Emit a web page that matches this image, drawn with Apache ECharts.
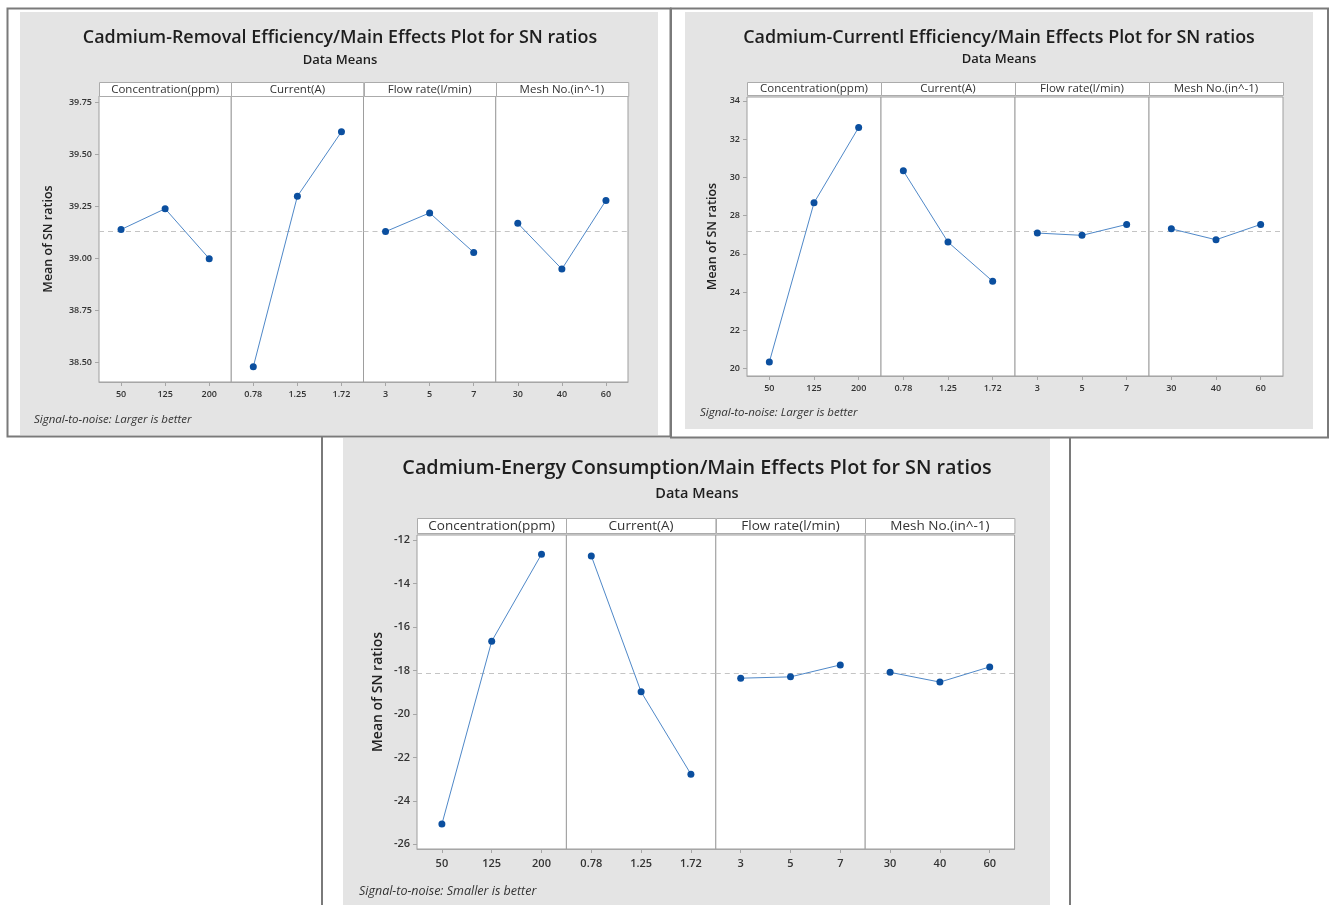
<!DOCTYPE html>
<html><head><meta charset="utf-8">
<script src="https://cdn.jsdelivr.net/npm/echarts@6/dist/echarts.min.js"></script>
<style>html,body{margin:0;padding:0;background:#fff}#c{width:1332px;height:905px}</style>
</head><body><div id="c"></div>
<script>
// ---------- DATA ----------
const factorNames = ['Concentration(ppm)', 'Current(A)', 'Flow rate(l/min)', 'Mesh No.(in^-1)'];
const concLevels = ['50', '125', '200'];
const currentLevels = ['0.78', '1.25', '1.72'];
const flowLevels = ['3', '5', '7'];
const meshLevels = ['30', '40', '60'];

// Cadmium-Removal Efficiency
const removalConc = [39.14, 39.24, 39.00];
const removalCurrent = [38.48, 39.30, 39.61];
const removalFlow = [39.13, 39.22, 39.03];
const removalMesh = [39.17, 38.95, 39.28];
const removalTicks = [38.50, 38.75, 39.00, 39.25, 39.50, 39.75];

// Cadmium-Current Efficiency
const currEffConc = [20.35, 28.67, 32.61];
const currEffCurrent = [30.34, 26.62, 24.57];
const currEffFlow = [27.09, 26.97, 27.54];
const currEffMesh = [27.31, 26.74, 27.54];
const currEffTicks = [20, 22, 24, 26, 28, 30, 32, 34];

// Cadmium-Energy Consumption
const energyConc = [-25.07, -16.65, -12.64];
const energyCurrent = [-12.72, -18.98, -22.77];
const energyFlow = [-18.35, -18.29, -17.74];
const energyMesh = [-18.08, -18.53, -17.83];
const energyTicks = [-26, -24, -22, -20, -18, -16, -14, -12];

const levelSets = [concLevels, currentLevels, flowLevels, meshLevels];

// ---------- LAYOUT ----------
const FONT = "'Open Sans', 'Noto Sans', sans-serif";
const charts = [
  {
    title: 'Cadmium-Removal Efficiency/Main Effects Plot for SN ratios',
    sub: 'Data Means', note: 'Signal-to-noise: Larger is better', yName: 'Mean of SN ratios',
    values: [removalConc, removalCurrent, removalFlow, removalMesh], ticks: removalTicks, dec: 2,
    L: { left: 99, pw: 132.25, top: 96, bottom: 382, hTop: 82, hBot: 96, yMin: 38.407, yMax: 39.782,
      tx: 340, ty: 38, tSize: 17.9, sy: 60, sSize: 13, hSize: 11.5, lSize: 9, nameSize: 12.5, nameGap: 44,
      fx: 34, fy: 420, fSize: 11.5, lblMargin: 8 }
  },
  {
    title: 'Cadmium-Currentl Efficiency/Main Effects Plot for SN ratios',
    sub: 'Data Means', note: 'Signal-to-noise: Larger is better', yName: 'Mean of SN ratios',
    values: [currEffConc, currEffCurrent, currEffFlow, currEffMesh], ticks: currEffTicks, dec: 0,
    L: { left: 747, pw: 134, top: 97, bottom: 376, hTop: 82, hBot: 95, yMin: 19.62, yMax: 34.2,
      tx: 999, ty: 38, tSize: 17.9, sy: 59, sSize: 13, hSize: 11.5, lSize: 9, nameSize: 12.5, nameGap: 28,
      fx: 700, fy: 413, fSize: 11.5, lblMargin: 8 }
  },
  {
    title: 'Cadmium-Energy Consumption/Main Effects Plot for SN ratios',
    sub: 'Data Means', note: 'Signal-to-noise: Smaller is better', yName: 'Mean of SN ratios',
    values: [energyConc, energyCurrent, energyFlow, energyMesh], ticks: energyTicks, dec: 0,
    L: { left: 417, pw: 149.4, top: 535, bottom: 849, hTop: 518, hBot: 533, yMin: -26.216, yMax: -11.757,
      tx: 697, ty: 468, tSize: 19.8, sy: 494, sSize: 14.5, hSize: 13.5, lSize: 11, nameSize: 14, nameGap: 32,
      fx: 359, fy: 891, fSize: 12.5, lblMargin: 9 }
  }
];

const grids = [], xAxes = [], yAxes = [], series = [];
const graphics = [
  // chart backgrounds and frames
  { type: 'rect', z: -10, shape: { x: 20, y: 12, width: 638, height: 423 }, style: { fill: '#e4e4e4' } },
  { type: 'rect', z: -10, shape: { x: 685, y: 12, width: 628, height: 417 }, style: { fill: '#e4e4e4' } },
  { type: 'rect', z: -10, shape: { x: 343, y: 438, width: 707, height: 467 }, style: { fill: '#e4e4e4' } },
  { type: 'rect', z: -9, shape: { x: 7.5, y: 8.5, width: 663, height: 428 }, style: { fill: 'none', stroke: '#7a7a7a', lineWidth: 2 } },
  { type: 'rect', z: -9, shape: { x: 671, y: 8.5, width: 657, height: 429 }, style: { fill: 'none', stroke: '#7a7a7a', lineWidth: 2 } },
  { type: 'line', z: -9, shape: { x1: 322, y1: 437, x2: 322, y2: 905 }, style: { stroke: '#7a7a7a', lineWidth: 2 } },
  { type: 'line', z: -9, shape: { x1: 1070, y1: 437, x2: 1070, y2: 905 }, style: { stroke: '#7a7a7a', lineWidth: 2 } }
];

charts.forEach((c, ci) => {
  const L = c.L;
  const all = c.values.flat();
  const mean = all.reduce((a, b) => a + b, 0) / all.length;
  graphics.push({ type: 'text', z: 20, x: L.tx, y: L.ty,
    style: { text: c.title, align: 'center', verticalAlign: 'middle', fontFamily: FONT, fontWeight: 600, fontSize: L.tSize, fill: '#1e1e1e' } });
  graphics.push({ type: 'text', z: 20, x: L.tx, y: L.sy,
    style: { text: c.sub, align: 'center', verticalAlign: 'middle', fontFamily: FONT, fontWeight: 600, fontSize: L.sSize, fill: '#1e1e1e' } });
  graphics.push({ type: 'text', z: 20, x: L.fx, y: L.fy,
    style: { text: c.note, align: 'left', verticalAlign: 'middle', fontFamily: FONT, fontStyle: 'italic', fontSize: L.fSize, fill: '#333' } });
  for (let p = 0; p < 4; p++) {
    const gi = ci * 4 + p;
    const gl = L.left + p * L.pw;
    graphics.push({ type: 'rect', z: 15, shape: { x: Math.round(gl) + 0.5, y: L.hTop + 0.5, width: L.pw, height: L.hBot - L.hTop },
      style: { fill: '#fff', stroke: '#ababab', lineWidth: 1 } });
    graphics.push({ type: 'text', z: 16, x: gl + L.pw / 2, y: (L.hTop + L.hBot) / 2 + 0.5,
      style: { text: factorNames[p], align: 'center', verticalAlign: 'middle', fontFamily: FONT, fontSize: L.hSize, fill: '#333' } });
    grids.push({ left: gl, top: L.top, width: L.pw, height: L.bottom - L.top, show: true, backgroundColor: '#fff',
      borderColor: '#9e9e9e', borderWidth: 1, containLabel: false, outerBoundsMode: 'none' });
    xAxes.push({ gridIndex: gi, type: 'category', data: levelSets[p], boundaryGap: true,
      axisLine: { show: true, lineStyle: { color: '#a6a6a6' } },
      axisTick: { show: true, alignWithLabel: true, length: 4, lineStyle: { color: '#a6a6a6' } },
      axisLabel: { fontFamily: FONT, fontSize: L.lSize, color: '#333', margin: L.lblMargin, fontWeight: 600 },
      splitLine: { show: false } });
    const first = p === 0;
    yAxes.push({ gridIndex: gi, type: 'value', min: L.yMin, max: L.yMax,
      name: first ? c.yName : '', nameLocation: 'middle', nameGap: L.nameGap,
      nameTextStyle: { fontFamily: FONT, fontWeight: 600, fontSize: L.nameSize, color: '#222' },
      axisLine: { show: false },
      axisTick: { show: first, length: 4, customValues: c.ticks, lineStyle: { color: '#a6a6a6' } },
      axisLabel: { show: first, customValues: c.ticks, formatter: v => Number(v).toFixed(c.dec),
        fontFamily: FONT, fontSize: L.lSize, color: '#333', margin: 7, fontWeight: 600 },
      splitLine: { show: false } });
    series.push({ type: 'line', xAxisIndex: gi, yAxisIndex: gi, data: c.values[p],
      symbol: 'circle', symbolSize: 7, itemStyle: { color: '#0b4f9f' },
      lineStyle: { color: '#4f88c8', width: 1 }, z: 5,
      markLine: { silent: true, symbol: 'none', label: { show: false },
        lineStyle: { color: '#c4c4c4', width: 1, type: [5, 4] }, data: [{ yAxis: mean }] } });
  }
});

const chart = echarts.init(document.getElementById('c'), null, { renderer: 'canvas' });
chart.setOption({
  animation: false, backgroundColor: '#fff',
  grid: grids, xAxis: xAxes, yAxis: yAxes, series: series, graphic: graphics
});
</script></body></html>
